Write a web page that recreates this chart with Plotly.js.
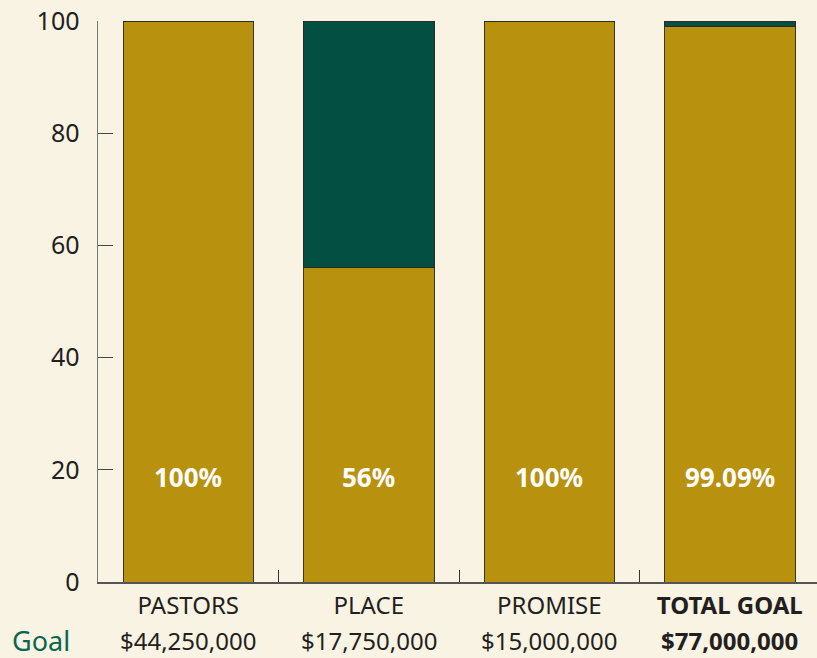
<!DOCTYPE html>
<html>
<head>
<meta charset="utf-8">
<script src="https://cdn.plot.ly/plotly-3.0.1.min.js"></script>
<style>
html,body{margin:0;padding:0;background:#F8F3E3;overflow:hidden;}
#chart{width:820px;height:658px;}
</style>
</head>
<body>
<div id="chart"></div>
<script>
const categories = ["PASTORS", "PLACE", "PROMISE", "TOTAL GOAL"];
const tickLabels = ["PASTORS", "PLACE", "PROMISE", "<b>TOTAL GOAL</b>"];
const raisedPct = [100, 56, 100, 99.09];
const remainingPct = [0, 44, 0, 0.91];
const pctLabels = ["100%", "56%", "100%", "99.09%"];
const goalLabels = ["$44,250,000", "$17,750,000", "$15,000,000", "<b>$77,000,000</b>"];

const GOLD = "#B8910F";
const GREEN = "#035042";
const BG = "#F8F3E3";
const FONT = "Noto Sans, Open Sans, sans-serif";

const traces = [
  {
    type: "bar", x: categories, y: raisedPct,
    marker: {color: GOLD, line: {color: "#3b3524", width: 1}},
    hoverinfo: "skip"
  },
  {
    type: "bar", x: categories, y: remainingPct,
    marker: {color: GREEN, line: {color: "#2b2b24", width: 1}},
    hoverinfo: "skip"
  }
];

const annotations = [];
categories.forEach((c, i) => {
  annotations.push({
    x: c, y: 18.7, xref: "x", yref: "y", text: "<b>" + pctLabels[i] + "</b>",
    showarrow: false, font: {family: FONT, size: 26, color: "#ffffff"}
  });
  annotations.push({
    x: c, y: -0.1034, xref: "x", yref: "paper", text: goalLabels[i],
    showarrow: false, yanchor: "middle", font: {family: FONT, size: 24, color: "#231f20"}
  });
});
annotations.push({
  x: -0.079, xref: "paper", y: -0.1034, yref: "paper", text: "Goal", showarrow: false,
  xanchor: "center", yanchor: "middle", font: {family: FONT, size: 27, color: "#0b6650"}
});

const layout = {
  width: 820, height: 658,
  margin: {l: 98, r: 0, t: 21, b: 76},
  paper_bgcolor: BG, plot_bgcolor: BG,
  barmode: "stack", bargap: 0.277,
  showlegend: false,
  font: {family: FONT, color: "#231f20"},
  xaxis: {
    type: "category", range: [-0.5, 3.5],
    tickvals: categories, ticktext: tickLabels,
    tickson: "boundaries", ticks: "inside", ticklen: 12, tickcolor: "#333",
    showline: true, linecolor: "#555", linewidth: 1.5,
    showgrid: false, zeroline: false,
    tickfont: {family: FONT, size: 24, color: "#231f20"},
    ticklabelstandoff: 2
  },
  yaxis: {
    range: [0, 100], tickvals: [0, 20, 40, 60, 80, 100],
    ticks: "inside", ticklen: 15, tickcolor: "#444",
    showline: true, linecolor: "#777", linewidth: 1.5,
    showgrid: false, zeroline: false,
    tickfont: {family: FONT, size: 25, color: "#231f20"},
    ticklabelstandoff: 12
  },
  annotations: annotations
};

Plotly.newPlot("chart", traces, layout, {displayModeBar: false, staticPlot: true});
</script>
</body>
</html>
